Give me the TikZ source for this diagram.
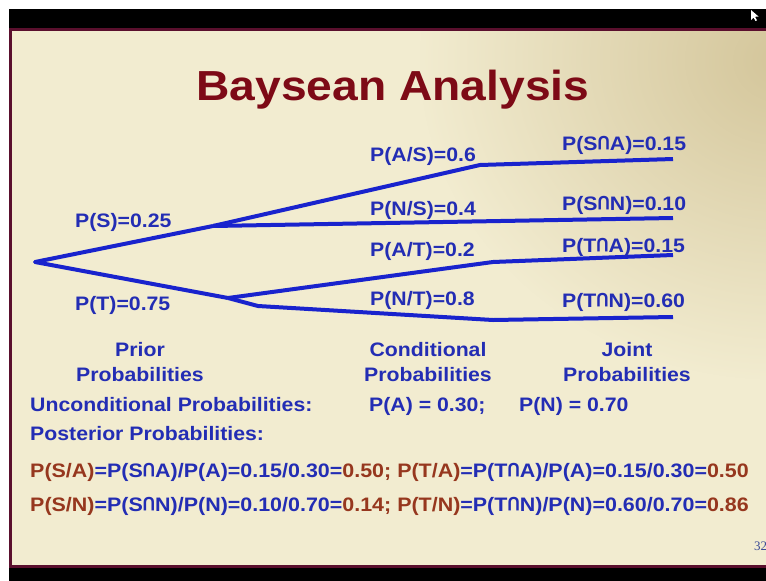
\documentclass[tikz,border=0pt]{standalone}
\usepackage{fontspec}
\usepackage{graphicx}
\setmainfont{Liberation Sans}
\newfontfamily\pagenumfont{Liberation Serif}
\usetikzlibrary{fadings}

\definecolor{txtblue}{RGB}{35,45,180}
\definecolor{lineblue}{RGB}{25,35,205}
\definecolor{titlered}{RGB}{125,10,22}
\definecolor{rust}{RGB}{150,55,30}
\definecolor{cream}{RGB}{242,236,208}
\definecolor{tanshade}{RGB}{212,198,155}
\definecolor{framered}{RGB}{90,15,45}
\definecolor{pagenum}{RGB}{60,75,150}

% slide text is slightly stretched horizontally
\newcommand{\wide}[1]{\scalebox{1.09}[1]{#1}}
\newcommand{\wider}[1]{\scalebox{1.1}[1]{#1}}
% intersection sign drawn at cap height
\newcommand{\inter}{\scalebox{0.8}[1]{\rotatebox[origin=c]{180}{U}}}

\tikzfading[name=cornerfade, inner color=transparent!0, outer color=transparent!100]

\begin{document}
\begin{tikzpicture}[x=1pt, y=-1pt,
  branch/.style={draw=lineblue, line width=4pt, line join=round},
  lbl/.style={anchor=base west, inner sep=0pt, text=txtblue,
              font=\fontsize{19.5}{22}\selectfont\bfseries},
  head/.style={anchor=base, inner sep=0pt, text=txtblue,
               font=\fontsize{19.5}{22}\selectfont\bfseries}]

\useasboundingbox (0,0) rectangle (766,581);
\clip (0,0) rectangle (766,581);

% screen surround and slide background
\fill[white] (0,0) rectangle (766,581);
\fill[black] (9,9) rectangle (766,581);
\begin{scope}
  \clip (10,29) rectangle (770,566);
  \fill[cream] (10,29) rectangle (770,566);
  \fill[tanshade, path fading=cornerfade] (780,60) ellipse (360 and 320);
\end{scope}
\draw[framered, line width=3pt] (10.5,29) rectangle (772,566);

% mouse pointer
\fill[white] (751,10) -- (751,20) -- (753.5,17.5) -- (755.5,21) -- (757,20.3) -- (755,16.8) -- (758.5,16.5) -- cycle;

% title
\node[anchor=base, inner sep=0pt, text=titlered,
      font=\fontsize{42}{46}\selectfont\bfseries] (title) at (393,100) {\scalebox{1.1}[1]{Baysean Analysis}};

% tree points
\coordinate (root) at (35,262);
\coordinate (s) at (213,226);
\coordinate (t) at (228,298);
\coordinate (askink) at (480,165);
\coordinate (as) at (673,159);
\coordinate (ns) at (673,218);
\coordinate (atkink) at (493,262);
\coordinate (at) at (673,255);
\coordinate (ntbend) at (258,306);
\coordinate (ntkink) at (493,320);
\coordinate (nt) at (673,317);

% branches
\draw[branch] (s) -- (root) -- (t);
\draw[branch] (s) -- (askink) -- (as);
\draw[branch] (s) -- (ns);
\draw[branch] (t) -- (atkink) -- (at);
\draw[branch] (t) -- (ntbend) -- (ntkink) -- (nt);

% prior probabilities
\node[lbl] (ps) at (75,227) {\wide{P(S)=0.25}};
\node[lbl] (pt) at (75,310) {\wide{P(T)=0.75}};

% conditional probabilities
\node[lbl] (pas) at (370,161) {\wide{P(A/S)=0.6}};
\node[lbl] (pns) at (370,215) {\wide{P(N/S)=0.4}};
\node[lbl] (pat) at (370,256) {\wide{P(A/T)=0.2}};
\node[lbl] (pnt) at (370,305) {\wide{P(N/T)=0.8}};

% joint probabilities
\node[lbl] (jsa) at (562,150) {\wide{P(S\inter A)=0.15}};
\node[lbl] (jsn) at (562,210) {\wide{P(S\inter N)=0.10}};
\node[lbl] (jta) at (562,252) {\wide{P(T\inter A)=0.15}};
\node[lbl] (jtn) at (562,307) {\wide{P(T\inter N)=0.60}};

% column headings
\node[head] (prior1) at (140,356) {\wide{Prior}};
\node[head] (prior2) at (140,381) {\wide{Probabilities}};
\node[head] (cond1) at (428,356) {\wide{Conditional}};
\node[head] (cond2) at (428,381) {\wide{Probabilities}};
\node[head] (joint1) at (627,356) {\wide{Joint}};
\node[head] (joint2) at (627,381) {\wide{Probabilities}};

% unconditional and posterior probabilities
\node[lbl] (uncond) at (30,411) {\wide{Unconditional Probabilities:}};
\node[lbl] (pa) at (369,411) {\wide{P(A) = 0.30;}};
\node[lbl] (pn) at (519,411) {\wide{P(N) = 0.70}};
\node[lbl] (post) at (30,440) {\wide{Posterior Probabilities:}};
\node[lbl] (posta) at (30,477) {\wider{\textcolor{rust}{P(S/A)}=P(S\inter A)/P(A)=0.15/0.30=\textcolor{rust}{0.50;} \textcolor{rust}{P(T/A)}=P(T\inter A)/P(A)=0.15/0.30=\textcolor{rust}{0.50}}};
\node[lbl] (postn) at (30,511) {\wider{\textcolor{rust}{P(S/N)}=P(S\inter N)/P(N)=0.10/0.70=\textcolor{rust}{0.14;} \textcolor{rust}{P(T/N)}=P(T\inter N)/P(N)=0.60/0.70=\textcolor{rust}{0.86}}};

% slide number
\node[anchor=base west, inner sep=0pt, text=pagenum,
      font=\pagenumfont\fontsize{13}{15}\selectfont] (slideno) at (754,550) {32};

\end{tikzpicture}
\end{document}
